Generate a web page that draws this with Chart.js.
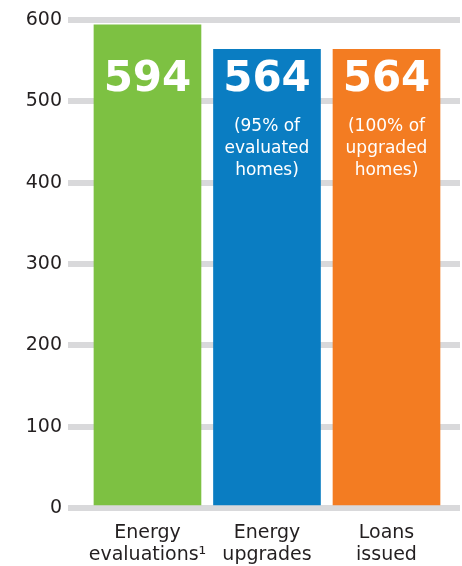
<!DOCTYPE html>
<html>
<head>
<meta charset="utf-8">
<script src="https://cdn.jsdelivr.net/npm/chart.js@4/dist/chart.umd.min.js"></script>
<style>
  html, body { margin: 0; padding: 0; background: #fff; }
  #wrap { width: 462px; height: 566px; position: relative; }
</style>
</head>
<body>
<div id="wrap"><canvas id="chart"></canvas></div>
<script>
// data
const categories = [['Energy', 'evaluations\u00b9'], ['Energy', 'upgrades'], ['Loans', 'issued']];
const values = [594, 564, 564];
const notes = [[], ['(95% of', 'evaluated', 'homes)'], ['(100% of', 'upgraded', 'homes)']];
const barColors = ['#7dc142', '#0a7dc2', '#f37c22'];
const yTicks = [0, 100, 200, 300, 400, 500, 600];

// texte blanc dans les barres
const barText = {
  id: 'barText',
  afterDatasetsDraw(chart) {
    const ctx = chart.ctx;
    const top = chart.chartArea.top;
    const meta = chart.getDatasetMeta(0);
    ctx.save();
    ctx.fillStyle = '#fff';
    ctx.textAlign = 'center';
    ctx.textBaseline = 'alphabetic';
    meta.data.forEach(function(bar, i){
      ctx.font = 'bold 42px "DejaVu Sans"';
      ctx.fillText(String(values[i]), bar.x, top + 71);
      ctx.font = '17px "DejaVu Sans"';
      notes[i].forEach(function(line, k){
        ctx.fillText(line, bar.x, top + 111 + k * 22);
      });
    });
    ctx.restore();
  }
};

new Chart(document.getElementById('chart').getContext('2d'), {
  type: 'bar',
  data: {
    datasets: [{
      data: values.map(function(v, i){ return { x: i, y: v }; }),
      backgroundColor: barColors,
      barThickness: 107,
      borderWidth: 0
    }]
  },
  options: {
    responsive: true,
    maintainAspectRatio: false,
    animation: false,
    layout: { padding: { top: 20, right: 2, left: 0, bottom: 0 } },
    plugins: { legend: { display: false }, tooltip: { enabled: false } },
    scales: {
      x: {
        type: 'linear',
        offset: false,
        bounds: 'data',
        min: -0.665,
        max: 2.615,
        grid: { display: false, offset: false },
        border: { display: false },
        afterBuildTicks: function(scale){
          scale.ticks = categories.map(function(c, i){ return { value: i }; });
        },
        afterFit: function(scale){ scale.height = 58; },
        ticks: {
          autoSkip: false,
          maxRotation: 0,
          padding: 6,
          color: '#231f20',
          font: { family: 'DejaVu Sans', size: 19, lineHeight: 1.15 },
          callback: function(v){ return categories[v]; }
        }
      },
      y: {
        min: 0,
        max: 600,
        afterBuildTicks: function(scale){
          scale.ticks = yTicks.map(function(t){ return { value: t }; });
        },
        afterFit: function(scale){ scale.width = 68; },
        grid: { color: '#d9d9db', lineWidth: 6, drawTicks: false },
        border: { display: false },
        ticks: {
          padding: 6,
          color: '#231f20',
          font: { family: 'DejaVu Sans', size: 19 }
        }
      }
    }
  },
  plugins: [barText]
});
</script>
</body>
</html>
